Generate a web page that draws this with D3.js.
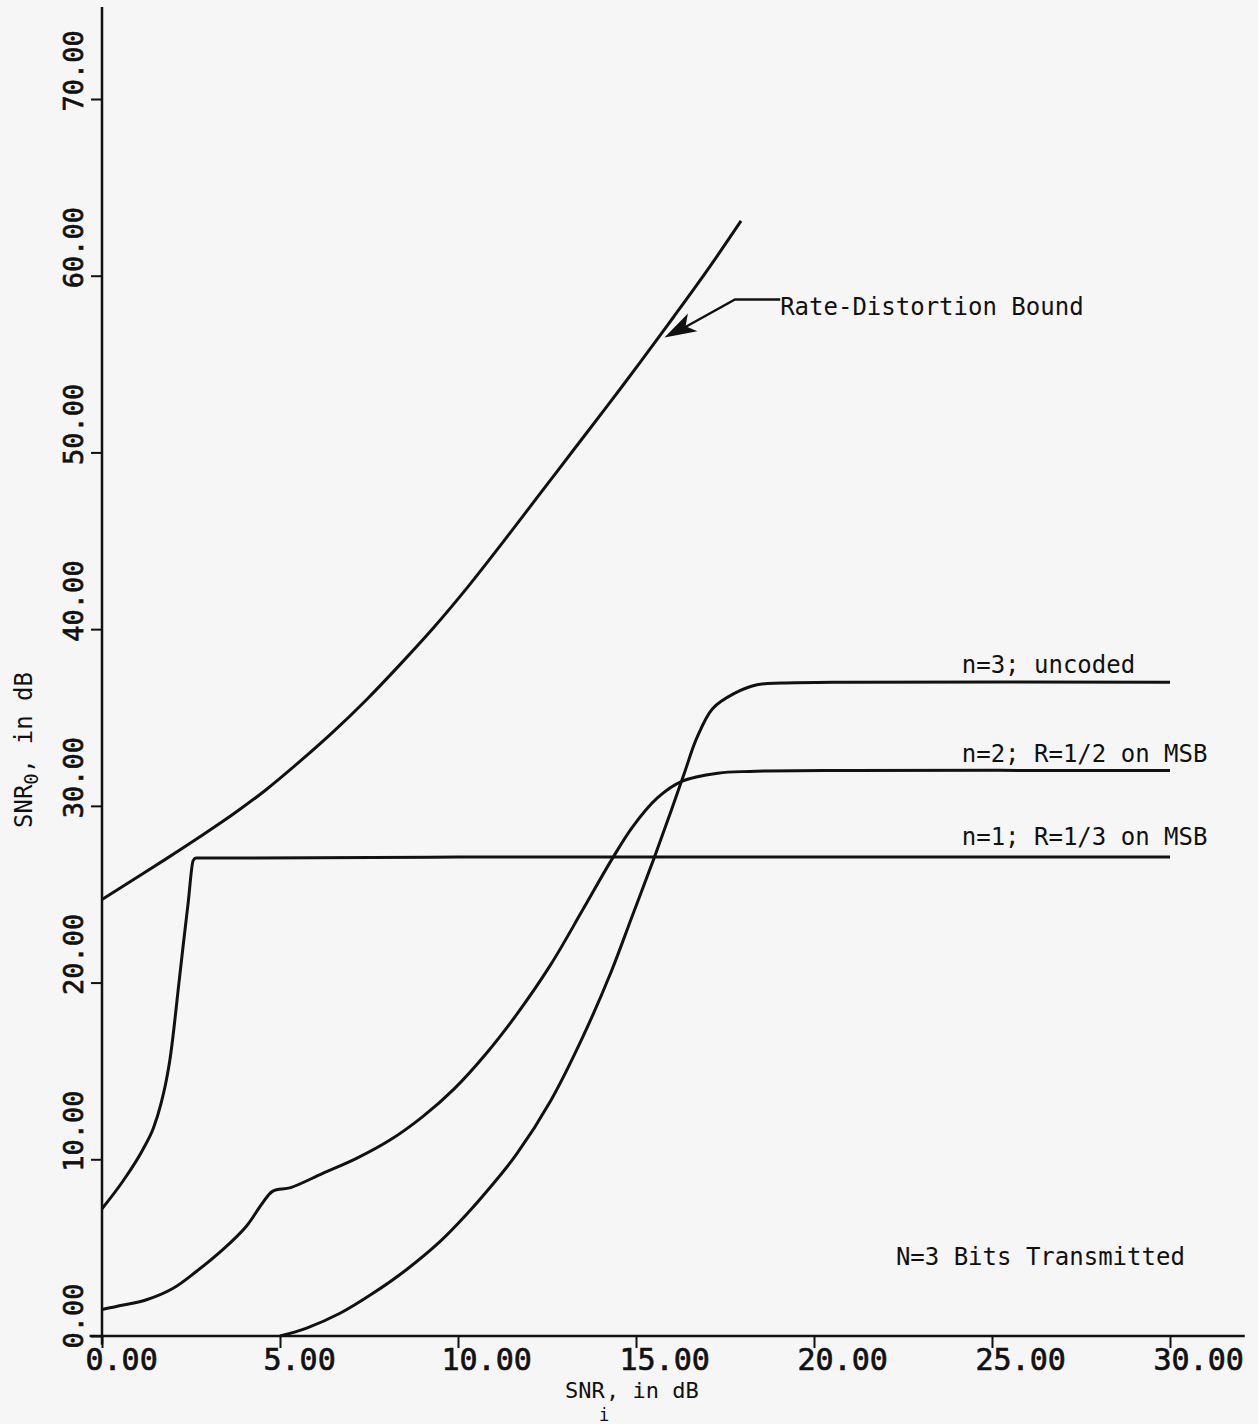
<!DOCTYPE html>
<html>
<head>
<meta charset="utf-8">
<script src="https://cdn.jsdelivr.net/npm/d3@7"></script>
<style>
  body { margin: 0; background: #f6f6f6; }
  svg { display: block; }
  text { font-family: "DejaVu Sans Mono", "Liberation Mono", monospace; fill: #111; }
</style>
</head>
<body>
<svg id="chart" width="1258" height="1424"></svg>
<script>
// SNR_i (dB) on x, SNR_o (dB) on y
var rdX = [0, 0.9, 1.8, 2.75, 3.7, 4.6, 5.55, 6.5, 7.45, 8.35, 9.3, 10.3, 11.35, 12.3, 13.25, 14.2, 15.1, 16.05, 17.0, 17.95];
var rdY = [24.7, 25.85, 27.0, 28.25, 29.55, 30.9, 32.5, 34.2, 36.05, 37.95, 40.05, 42.45, 45.15, 47.65, 50.15, 52.65, 55.05, 57.65, 60.3, 63.1];

var n1X = [0, 0.6, 1.16, 1.45, 1.65, 1.8, 1.92, 2.02, 2.14, 2.28, 2.42, 2.56, 2.64, 3.5, 6, 10, 20, 30];
var n1Y = [7.2, 8.8, 10.6, 11.8, 13.1, 14.4, 15.8, 17.4, 19.6, 22.1, 24.5, 26.9, 27.05, 27.05, 27.07, 27.1, 27.1, 27.1];

var n2X = [0, 0.6, 1.25, 2.0, 2.65, 3.4, 4.05, 4.5, 4.8, 5.3, 6.2, 7.15, 8.1, 9.0, 9.9, 10.8, 11.65, 12.6, 13.5, 14.3, 14.9, 15.6, 16.3, 17.3, 18.2, 21, 30];
var n2Y = [1.5, 1.75, 2.05, 2.7, 3.65, 4.9, 6.2, 7.5, 8.2, 8.4, 9.2, 10.05, 11.1, 12.4, 14.0, 16.0, 18.2, 21.0, 24.1, 26.9, 28.8, 30.45, 31.4, 31.85, 31.95, 32.0, 32.0];

var n3X = [5.0, 5.75, 6.7, 7.6, 8.55, 9.5, 10.25, 10.9, 11.65, 12.6, 13.5, 14.3, 14.9, 15.5, 16.0, 16.35, 16.7, 17.15, 17.75, 18.4, 19.1, 21, 30];
var n3Y = [0, 0.45, 1.3, 2.4, 3.75, 5.35, 6.9, 8.4, 10.3, 13.3, 16.9, 20.6, 23.8, 27.0, 29.8, 31.8, 33.8, 35.5, 36.35, 36.85, 36.95, 37.0, 37.0];

var xTicks = [0, 5, 10, 15, 20, 25, 30];
var yTicks = [0, 10, 20, 30, 40, 50, 60, 70];

var svg = d3.select("#chart");

var x = d3.scaleLinear().domain([0, 30]).range([102, 1170]);
var y = d3.scaleLinear().domain([0, 70]).range([1336, 99]);
var fmt = d3.format(".2f");

/* axes */
svg.append("line")
  .attr("x1", x(-0.35)).attr("x2", x(32.1))
  .attr("y1", y(0)).attr("y2", y(0))
  .attr("stroke", "#111").attr("stroke-width", 2.5);
svg.append("line")
  .attr("x1", x(0)).attr("x2", x(0))
  .attr("y1", y(-0.5)).attr("y2", y(75.2))
  .attr("stroke", "#111").attr("stroke-width", 2.5);

var xAxis = svg.append("g").attr("transform", "translate(0," + y(0) + ")")
  .call(d3.axisBottom(x).tickValues(xTicks).tickSize(12).tickFormat(fmt));
xAxis.select(".domain").remove();
xAxis.selectAll(".tick line").attr("stroke", "#111").attr("stroke-width", 2);
xAxis.selectAll(".tick text")
  .attr("font-family", "DejaVu Sans Mono, monospace")
  .attr("font-size", 30).attr("fill", "#111")
  .attr("stroke", "#111").attr("stroke-width", 0.7)
  .attr("text-anchor", "start").attr("x", -17).attr("y", 34).attr("dy", 0);

var yAxis = svg.append("g").attr("transform", "translate(" + x(0) + ",0)")
  .call(d3.axisLeft(y).tickValues(yTicks).tickSize(11).tickFormat(fmt));
yAxis.select(".domain").remove();
yAxis.selectAll(".tick line").attr("stroke", "#111").attr("stroke-width", 2);
yAxis.selectAll(".tick text")
  .attr("font-family", "DejaVu Sans Mono, monospace")
  .attr("font-size", 27).attr("fill", "#111")
  .attr("stroke", "#111").attr("stroke-width", 0.7)
  .attr("text-anchor", "start").attr("x", 0).attr("dy", 0)
  .attr("transform", "translate(-19,12) rotate(-90)");

/* curves */
function pairs(xs, ys) {
  return xs.map(function (v, i) { return [v, ys[i]]; });
}

var series = [
  { xs: rdX, ys: rdY, curve: d3.curveCatmullRom.alpha(0.5) },
  { xs: n1X, ys: n1Y, curve: d3.curveMonotoneX },
  { xs: n2X, ys: n2Y, curve: d3.curveCatmullRom.alpha(0.5) },
  { xs: n3X, ys: n3Y, curve: d3.curveCatmullRom.alpha(0.5) }
];

series.forEach(function (s) {
  var line = d3.line()
    .x(function (d) { return x(d[0]); })
    .y(function (d) { return y(d[1]); })
    .curve(s.curve);
  svg.append("path")
    .datum(pairs(s.xs, s.ys))
    .attr("fill", "none")
    .attr("stroke", "#111")
    .attr("stroke-width", 3)
    .attr("stroke-linejoin", "round")
    .attr("d", line);
});

/* labels */
function label(txt, vx, vy, size) {
  svg.append("text")
    .attr("x", x(vx)).attr("y", y(vy))
    .attr("font-size", size || 24)
    .text(txt);
}
label("n=3; uncoded", 24.15, 37.5);
label("n=2; R=1/2 on MSB", 24.15, 32.5);
label("n=1; R=1/3 on MSB", 24.15, 27.8);
label("N=3 Bits Transmitted", 22.3, 4.0);
label("Rate-Distortion Bound", 19.05, 57.8);

// arrow to the rate-distortion curve
var tip = [15.8, 56.5], elbow = [17.78, 58.65], tail = [19.05, 58.65];
svg.append("path")
  .attr("d", "M" + x(tail[0]) + "," + y(tail[1]) + "L" + x(elbow[0]) + "," + y(elbow[1]) + "L" + x(tip[0] + 0.5) + "," + y(tip[1] + 0.5))
  .attr("fill", "none").attr("stroke", "#111").attr("stroke-width", 2.4);
var tx = x(tip[0]), ty = y(tip[1]);
var ang = Math.atan2(y(elbow[1]) - ty, x(elbow[0]) - tx);
var L = 32, W = 10;
var bx = tx + L * Math.cos(ang), by = ty + L * Math.sin(ang);
svg.append("path")
  .attr("d", "M" + tx + "," + ty +
    "L" + (bx - W * Math.sin(ang)) + "," + (by + W * Math.cos(ang)) +
    "L" + (tx + 0.75 * L * Math.cos(ang)) + "," + (ty + 0.75 * L * Math.sin(ang)) +
    "L" + (bx + W * Math.sin(ang)) + "," + (by - W * Math.cos(ang)) + "Z")
  .attr("fill", "#111");

/* axis titles */
svg.append("text").attr("x", 565).attr("y", 1398).attr("font-size", 22).text("SNR");
svg.append("text").attr("x", 599).attr("y", 1421).attr("font-size", 17).text("i");
svg.append("text").attr("x", 606).attr("y", 1398).attr("font-size", 22).text(", in dB");

svg.append("text")
  .attr("transform", "translate(32,750) rotate(-90)")
  .attr("text-anchor", "middle")
  .attr("font-size", 24)
  .html('SNR<tspan font-size="19" dy="6">0</tspan><tspan dy="-6">, in dB</tspan>');
</script>
</body>
</html>
